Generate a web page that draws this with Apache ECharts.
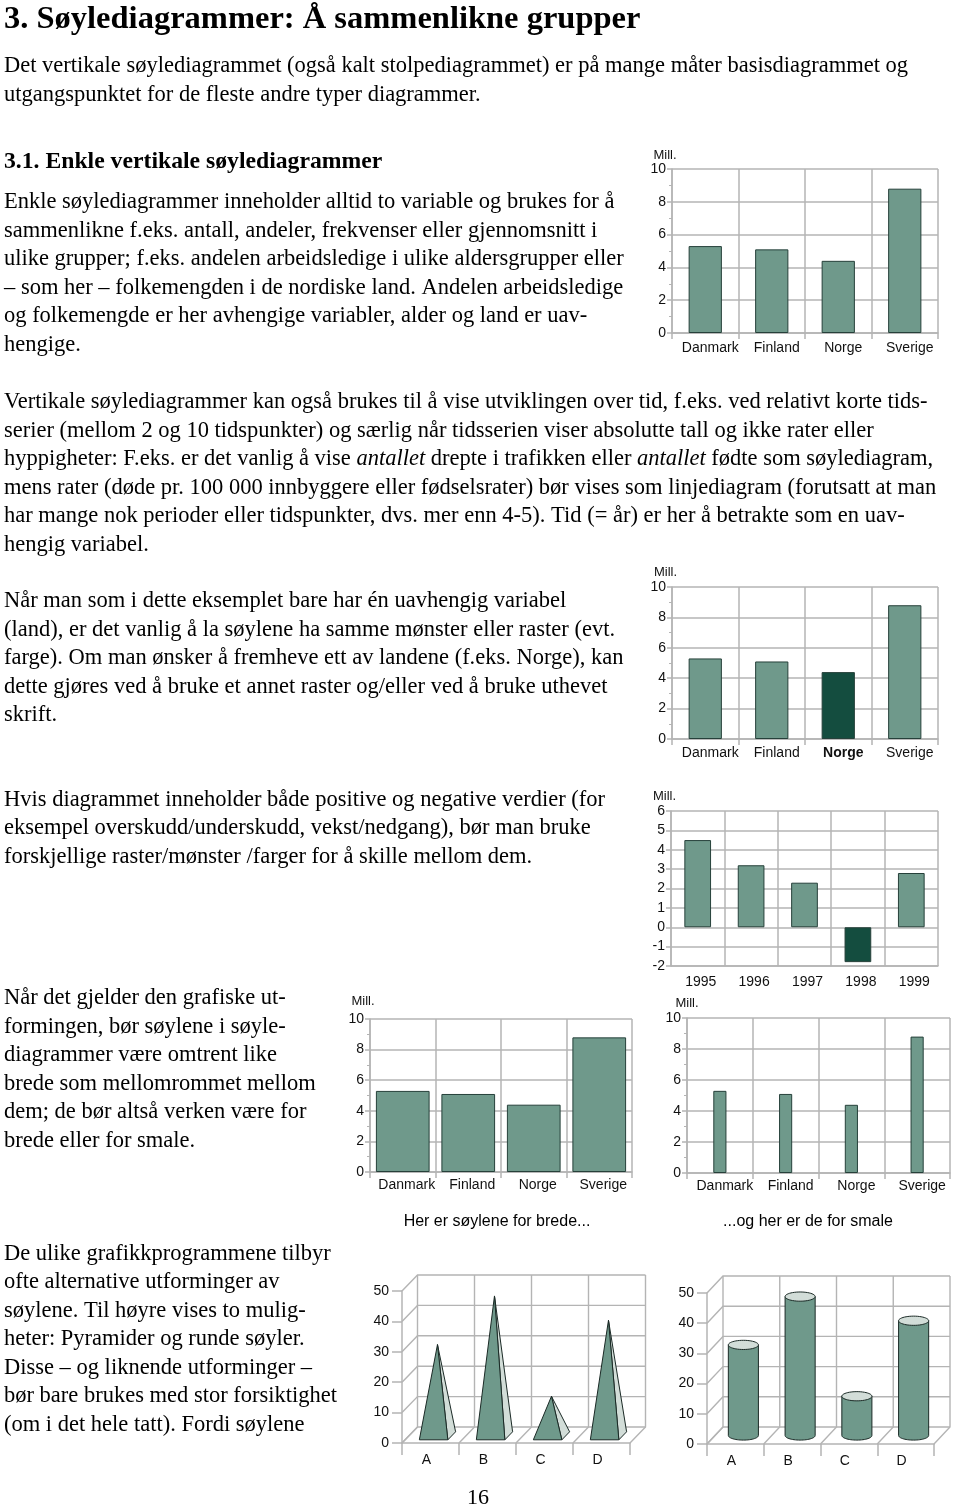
<!DOCTYPE html>
<html><head><meta charset="utf-8">
<script src="https://cdn.jsdelivr.net/npm/echarts@6/dist/echarts.min.js"></script>
<style>html,body{margin:0;padding:0;background:#fff}#c{width:960px;height:1509px}</style>
</head><body><div id="c"></div>
<script>
// ---------------- data ----------------
const countries = ['Danmark', 'Finland', 'Norge', 'Sverige'];
const population = [5.3, 5.1, 4.4, 8.8];          // Mill.
const highlightCountry = 'Norge';
const years = ['1995', '1996', '1997', '1998', '1999'];
const yearValues = [4.5, 3.2, 2.3, -1.8, 2.8];    // Mill.
const shapeCats = ['A', 'B', 'C', 'D'];
const shapeValues = [30, 46, 13, 38];
const unitLabel = 'Mill.';

// ---------------- texts ----------------
const titleText = '3. Søylediagrammer: Å sammenlikne grupper';
const introLines = [
  'Det vertikale søylediagrammet (også kalt stolpediagrammet) er på mange måter basisdiagrammet og',
  'utgangspunktet for de fleste andre typer diagrammer.'];
const subTitle = '3.1. Enkle vertikale søylediagrammer';
const para1 = [
  'Enkle søylediagrammer inneholder alltid to variable og brukes for å',
  'sammenlikne f.eks. antall, andeler, frekvenser eller gjennomsnitt i',
  'ulike grupper; f.eks. andelen arbeidsledige i ulike aldersgrupper eller',
  '– som her – folkemengden i de nordiske land. Andelen arbeidsledige',
  'og folkemengde er her avhengige variabler, alder og land er uav-',
  'hengige.'];
const para2 = [
  'Vertikale søylediagrammer kan også brukes til å vise utviklingen over tid, f.eks. ved relativt korte tids-',
  'serier (mellom 2 og 10 tidspunkter) og særlig når tidsserien viser absolutte tall og ikke rater eller',
  'hyppigheter: F.eks. er det vanlig å vise {i|antallet} drepte i trafikken eller {i|antallet} fødte som søylediagram,',
  'mens rater (døde pr. 100 000 innbyggere eller fødselsrater) bør vises som linjediagram (forutsatt at man',
  'har mange nok perioder eller tidspunkter, dvs. mer enn 4-5). Tid (= år) er her å betrakte som en uav-',
  'hengig variabel.'];
const para3 = [
  'Når man som i dette eksemplet bare har én uavhengig variabel',
  '(land), er det vanlig å la søylene ha samme mønster eller raster (evt.',
  'farge). Om man ønsker å fremheve ett av landene (f.eks. Norge), kan',
  'dette gjøres ved å bruke et annet raster og/eller ved å bruke uthevet',
  'skrift.'];
const para4 = [
  'Hvis diagrammet inneholder både positive og negative verdier (for',
  'eksempel overskudd/underskudd, vekst/nedgang), bør man bruke',
  'forskjellige raster/mønster /farger for å skille mellom dem.'];
const para5 = [
  'Når det gjelder den grafiske ut-',
  'formingen, bør søylene i søyle-',
  'diagrammer være omtrent like',
  'brede som mellomrommet mellom',
  'dem; de bør altså verken være for',
  'brede eller for smale.'];
const para6 = [
  'De ulike grafikkprogrammene tilbyr',
  'ofte alternative utforminger av',
  'søylene. Til høyre vises to mulig-',
  'heter: Pyramider og runde søyler.',
  'Disse – og liknende utforminger –',
  'bør bare brukes med stor forsiktighet',
  '(om i det hele tatt). Fordi søylene'];
const captionWide = 'Her er søylene for brede...';
const captionNarrow = '...og her er de for smale';
const pageNumber = '16';

// ---------------- styles ----------------
const SERIF = "'Liberation Serif','Times New Roman',serif";
const SANS = "'Liberation Sans',Arial,Helvetica,sans-serif";
const GRIDC = '#b4b4b4';
const BAR = '#6f998b';
const BAR_DARK = '#144d3f';
const EDGE = '#26403a';
const LIGHT = '#d2ddd8';
const BODY = 22.5;
const LH = 28.5;

const graphics = [];
function addText(str, x, y, size, o) {
  o = o || {};
  graphics.push({
    type: 'text', x: x, y: y, silent: true,
    style: {
      text: str, fontSize: size, fontFamily: o.family || SERIF,
      fontWeight: o.bold ? 'bold' : 'normal', fill: '#000',
      align: o.align || 'left', textAlign: o.align || 'left',
      verticalAlign: 'middle', textVerticalAlign: 'middle',
      rich: { i: { fontStyle: 'italic', fontSize: size, fontFamily: o.family || SERIF, fill: '#000' } }
    }
  });
}
function addLines(lines, x, y0) {
  lines.forEach((l, k) => addText(l, x, y0 + k * LH, BODY));
}
addText(titleText, 4, 20, 32.5, { bold: true });
addLines(introLines, 4, 66.5);
addText(subTitle, 4, 161.5, 23.7, { bold: true });
addLines(para1, 4, 202.5);
addLines(para2, 4, 402.5);
addLines(para3, 4, 601.5);
addLines(para4, 4, 800);
addLines(para5, 4, 998.5);
addLines(para6, 4, 1254);
addText(captionWide, 497, 1222, 16, { family: SANS, align: 'center' });
addText(captionNarrow, 808, 1222, 16, { family: SANS, align: 'center' });
addText(pageNumber, 478, 1498, 22, { align: 'center' });

const grids = [], xAxes = [], yAxes = [], series = [];
const lineSt = { color: GRIDC, width: 1.5 };

function addBarChart(o) {
  const gi = grids.length;
  grids.push(Object.assign({ containLabel: false }, o.grid));
  xAxes.push({
    type: 'category', gridIndex: gi, data: o.cats,
    axisLine: { show: true, onZero: false, lineStyle: lineSt },
    axisTick: { show: o.xTicks !== false, length: 6, lineStyle: lineSt },
    splitLine: { show: true, lineStyle: lineSt },
    axisLabel: {
      interval: 0, hideOverlap: false,
      fontSize: 14, fontFamily: SANS, color: '#111', margin: o.labelMargin,
      padding: [0, 0, 0, o.labelShift],
      formatter: v => (v === o.highlight ? '{b|' + v + '}' : v),
      rich: { b: { fontWeight: 'bold', fontSize: 14, fontFamily: SANS, color: '#111' } }
    }
  });
  yAxes.push({
    type: 'value', gridIndex: gi, min: o.yMin, max: o.yMax, interval: o.yInt,
    name: unitLabel, nameLocation: 'end', nameGap: o.nameGap,
    nameTextStyle: { fontSize: 13, fontFamily: SANS, color: '#111', align: 'center', padding: [0, o.namePad, 0, 0] },
    axisLine: { show: true, lineStyle: lineSt },
    axisTick: { show: true, length: 5, lineStyle: lineSt },
    minorTick: { show: !!o.minor, splitNumber: 2, length: 3, lineStyle: { color: GRIDC, width: 1 } },
    splitLine: { show: true, lineStyle: lineSt },
    axisLabel: { fontSize: 14, fontFamily: SANS, color: '#111', margin: 6 }
  });
  series.push({
    type: 'bar', xAxisIndex: gi, yAxisIndex: gi, data: o.values, barWidth: o.barWidth,
    silent: true, animation: false,
    itemStyle: {
      borderColor: EDGE, borderWidth: 1,
      color: p => ((o.highlight && o.cats[p.dataIndex] === o.highlight) || p.value < 0 ? BAR_DARK : BAR)
    }
  });
}

addBarChart({ grid: { left: 672, top: 169, width: 266, height: 164 }, cats: countries, values: population,
  yMin: 0, yMax: 10, yInt: 2, minor: true, barWidth: '50%', nameGap: 7, namePad: 14, labelMargin: 8, labelShift: 10 });
addBarChart({ grid: { left: 672, top: 587, width: 266, height: 152 }, cats: countries, values: population,
  highlight: highlightCountry,
  yMin: 0, yMax: 10, yInt: 2, minor: true, barWidth: '50%', nameGap: 8, namePad: 13, labelMargin: 7, labelShift: 10 });
addBarChart({ grid: { left: 671, top: 811, width: 267, height: 155 }, cats: years, values: yearValues,
  yMin: -2, yMax: 6, yInt: 1, minor: false, barWidth: '50%', nameGap: 8, namePad: 13, labelMargin: 9, labelShift: 6, xTicks: false });
addBarChart({ grid: { left: 370, top: 1019, width: 262, height: 153 }, cats: countries, values: population,
  yMin: 0, yMax: 10, yInt: 2, minor: true, barWidth: '82%', nameGap: 11, namePad: 14, labelMargin: 6, labelShift: 8 });
addBarChart({ grid: { left: 687, top: 1018, width: 263, height: 155 }, cats: countries, values: population,
  yMin: 0, yMax: 10, yInt: 2, minor: true, barWidth: '20%', nameGap: 8, namePad: 0, labelMargin: 6, labelShift: 10 });

// ---------- pseudo-3D charts ----------
function ellipsePts(cx, cy, rx, ry, t0, t1, n) {
  const pts = [];
  for (let k = 0; k <= n; k++) {
    const t = t0 + (t1 - t0) * k / n;
    pts.push([cx + rx * Math.cos(t), cy + ry * Math.sin(t)]);
  }
  return pts;
}

function add3DChart(o) {
  const gi = grids.length;
  grids.push(o.grid);
  xAxes.push({
    type: 'category', gridIndex: gi, data: o.cats,
    axisLine: { show: true, lineStyle: lineSt },
    axisTick: { show: true, length: 12, lineStyle: lineSt },
    splitLine: { show: false },
    axisLabel: { interval: 0, fontSize: 14, fontFamily: SANS, color: '#111', margin: 10, padding: [0, 8, 0, 0] }
  });
  yAxes.push({
    type: 'value', gridIndex: gi, min: 0, max: 50, interval: 10,
    axisLine: { show: true, lineStyle: lineSt },
    axisTick: { show: true, length: 10, lineStyle: lineSt },
    splitLine: { show: false },
    axisLabel: { fontSize: 14, fontFamily: SANS, color: '#111', margin: 13 }
  });
  const dx = o.dx, dy = o.dy, n = o.cats.length;
  series.push({
    type: 'custom', xAxisIndex: gi, yAxisIndex: gi, silent: true, animation: false, clip: false, z: 1,
    data: [[0, 0]],
    renderItem: function (params, api) {
      const bw = api.size([1, 0])[0];
      const x0 = api.coord([0, 0])[0] - bw / 2;
      const x1 = api.coord([n - 1, 0])[0] + bw / 2;
      const yb = api.coord([0, 0])[1], yt = api.coord([0, 50])[1];
      const ch = [];
      const st = { stroke: GRIDC, lineWidth: 1.4 };
      for (let v = 0; v <= 50; v += 10) {
        const y = api.coord([0, v])[1];
        ch.push({ type: 'polyline', shape: { points: [[x0, y], [x0 + dx, y + dy], [x1 + dx, y + dy]] }, style: Object.assign({ fill: null }, st) });
      }
      for (let b = 0; b <= n; b++) {
        const x = x0 + b * bw;
        ch.push({ type: 'polyline', shape: { points: [[x, yb], [x + dx, yb + dy], [x + dx, yt + dy]] }, style: Object.assign({ fill: null }, st) });
      }
      return { type: 'group', children: ch };
    }
  });
  series.push({
    type: 'custom', xAxisIndex: gi, yAxisIndex: gi, silent: true, animation: false, clip: false, z: 3,
    data: o.values.map((v, i) => [i, v]),
    renderItem: function (params, api) {
      const i = api.value(0), v = api.value(1);
      const bw = api.size([1, 0])[0];
      const base = api.coord([i, 0]);
      const top = api.coord([i, v]);
      const es = { stroke: '#1b2a26', lineWidth: 1 };
      if (o.kind === 'pyramid') {
        const w = bw * 0.25, f = 0.2, b = 0.7, m = (f + b) / 2;
        const FL = [base[0] - w + f * dx, base[1] + f * dy];
        const FR = [base[0] + w + f * dx, base[1] + f * dy];
        const BR = [base[0] + w + b * dx, base[1] + b * dy];
        const AP = [base[0] + m * dx, top[1] + m * dy];
        return { type: 'group', children: [
          { type: 'polygon', shape: { points: [FR, BR, AP] }, style: Object.assign({ fill: LIGHT }, es) },
          { type: 'polygon', shape: { points: [FL, FR, AP] }, style: Object.assign({ fill: BAR }, es) }
        ] };
      } else {
        const rx = bw * 0.265, ry = 4.6;
        const cx = base[0] + 0.5 * dx;
        const yb = base[1] + 0.5 * dy, yt = top[1] + 0.5 * dy;
        const body = [[cx - rx, yt]].concat(ellipsePts(cx, yb, rx, ry, Math.PI, 0, 30)).concat([[cx + rx, yt]]);
        const cap = ellipsePts(cx, yt, rx, ry, 0, Math.PI * 2, 48);
        return { type: 'group', children: [
          { type: 'polygon', shape: { points: body }, style: Object.assign({ fill: BAR }, es) },
          { type: 'polygon', shape: { points: cap }, style: Object.assign({ fill: LIGHT }, es) }
        ] };
      }
    }
  });
}

add3DChart({ grid: { left: 402, top: 1291, width: 228, height: 152 }, cats: shapeCats, values: shapeValues, kind: 'pyramid', dx: 15.5, dy: -16 });
add3DChart({ grid: { left: 707, top: 1293, width: 227, height: 151 }, cats: shapeCats, values: shapeValues, kind: 'cylinder', dx: 16, dy: -17 });

const chart = echarts.init(document.getElementById('c'), null, { renderer: 'canvas', width: 960, height: 1509 });
chart.setOption({
  backgroundColor: '#ffffff',
  animation: false,
  grid: grids, xAxis: xAxes, yAxis: yAxes, series: series,
  graphic: { elements: graphics }
});
</script></body></html>
